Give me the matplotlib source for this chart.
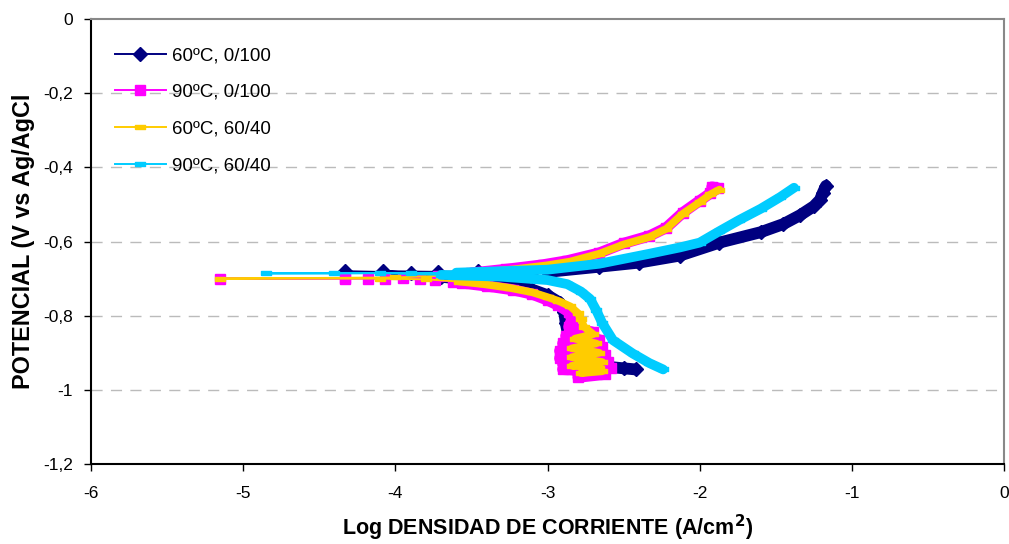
import matplotlib
matplotlib.use("Agg")
import matplotlib.pyplot as plt
import numpy as np

plt.rcParams['font.family'] = ['Liberation Sans', 'DejaVu Sans']

# ---------------- data (log i [A/cm2], E [V vs Ag/AgCl]) ----------------
labels = ["60ºC, 0/100", "90ºC, 0/100", "60ºC, 60/40", "90ºC, 60/40"]

# 60ºC, 0/100
s1_cat_x = [-2.42, -2.50, -2.60, -2.72, -2.82, -2.86, -2.88, -2.89, -2.92, -3.00, -3.10, -3.25, -3.45, -3.70]
s1_cat_y = [-0.945, -0.942, -0.938, -0.925, -0.900, -0.860, -0.820, -0.790, -0.765, -0.745, -0.730, -0.715, -0.705, -0.695]
s1_mid_x = [-4.33, -3.90, -4.08, -3.72, -3.46, -3.26, -3.10]
s1_mid_y = [-0.680, -0.684, -0.680, -0.682, -0.680, -0.681, -0.682]
s1_an_x = [-3.00, -2.66, -2.40, -2.13, -1.87, -1.60, -1.45, -1.34, -1.25, -1.21, -1.19, -1.17]
s1_an_y = [-0.682, -0.668, -0.657, -0.638, -0.603, -0.575, -0.553, -0.529, -0.505, -0.488, -0.468, -0.450]

# 90ºC, 0/100
s2_cat_x = [-2.62, -2.80, -2.68, -2.90, -2.58, -2.90, -2.60, -2.92, -2.62, -2.92, -2.64, -2.90, -2.66, -2.88,
            -2.70, -2.86, -2.84, -2.86, -2.93, -3.00, -3.10, -3.23, -3.40, -3.56]
s2_cat_y = [-0.958, -0.966, -0.950, -0.945, -0.940, -0.930, -0.925, -0.915, -0.905, -0.895, -0.885, -0.875,
            -0.865, -0.855, -0.845, -0.830, -0.810, -0.790, -0.772, -0.758, -0.742, -0.730, -0.720, -0.712]
s2_mid_x = [-3.62, -3.74, -3.84, -4.07, -4.18, -4.33, -5.15, -4.33, -3.95, -3.72]
s2_mid_y = [-0.708, -0.704, -0.702, -0.701, -0.700, -0.700, -0.700, -0.699, -0.698, -0.693]
s2_an_x = [-3.50, -3.27, -3.03, -2.87, -2.66, -2.50, -2.33, -2.22, -2.11, -2.00, -1.93, -1.88, -1.92]
s2_an_y = [-0.685, -0.675, -0.663, -0.652, -0.631, -0.605, -0.585, -0.563, -0.522, -0.490, -0.470, -0.456, -0.453]

# 60ºC, 60/40
s3_cat_x = [-2.64, -2.78, -2.66, -2.84, -2.64, -2.84, -2.66, -2.84, -2.68, -2.82, -2.70, -2.76, -2.78, -2.80,
            -2.85, -2.93, -3.00, -3.10, -3.25, -3.42, -3.58]
s3_cat_y = [-0.950, -0.955, -0.940, -0.935, -0.925, -0.912, -0.900, -0.888, -0.875, -0.862, -0.850, -0.830,
            -0.810, -0.793, -0.775, -0.760, -0.750, -0.737, -0.725, -0.715, -0.708]
s3_mid_x = [-3.80, -4.10, -5.15, -4.00, -3.70]
s3_mid_y = [-0.702, -0.700, -0.700, -0.697, -0.692]
s3_an_x = [-3.45, -3.20, -3.00, -2.85, -2.66, -2.50, -2.33, -2.22, -2.11, -2.00, -1.93, -1.87]
s3_an_y = [-0.684, -0.674, -0.664, -0.654, -0.633, -0.608, -0.588, -0.566, -0.525, -0.494, -0.473, -0.460]

# 90ºC, 60/40
s4_cat_x = [-2.24, -2.33, -2.44, -2.57, -2.64, -2.68, -2.72, -2.78, -2.87, -3.00, -3.30, -3.70]
s4_cat_y = [-0.945, -0.928, -0.902, -0.866, -0.820, -0.785, -0.755, -0.735, -0.715, -0.704, -0.695, -0.690]
s4_mid_x = [-4.10, -4.85, -4.40, -3.90]
s4_mid_y = [-0.685, -0.686, -0.686, -0.685]
s4_an_x = [-3.60, -3.00, -2.66, -2.33, -2.13, -2.00, -1.87, -1.74, -1.60, -1.47, -1.38]
s4_an_y = [-0.684, -0.676, -0.660, -0.633, -0.616, -0.603, -0.572, -0.542, -0.512, -0.480, -0.455]

x_ticks = [-6, -5, -4, -3, -2, -1, 0]
y_ticks = [0, -0.2, -0.4, -0.6, -0.8, -1.0, -1.2]
y_ticklabels = ["0", "-0,2", "-0,4", "-0,6", "-0,8", "-1", "-1,2"]

# ---------------- styling ----------------
colors = ["#000080", "#FF00FF", "#FFCC00", "#00CCFF"]
rect = [(-1, -0.45), (1, -0.45), (1, 0.45), (-1, 0.45), (-1, -0.45)]
markers = ["D", "s", rect, rect]
msizes = [7.5, 7.5, 6.5, 6.5]
band_w = [8.5, 8.0, 5.5, 7.0]

fig = plt.figure(figsize=(10.09, 5.44), dpi=100)
ax = fig.add_axes([91 / 1009, 80 / 544, 913 / 1009, 445 / 544])

series = [
    (s1_cat_x, s1_cat_y, s1_mid_x, s1_mid_y, s1_an_x, s1_an_y),
    (s2_cat_x, s2_cat_y, s2_mid_x, s2_mid_y, s2_an_x, s2_an_y),
    (s3_cat_x, s3_cat_y, s3_mid_x, s3_mid_y, s3_an_x, s3_an_y),
    (s4_cat_x, s4_cat_y, s4_mid_x, s4_mid_y, s4_an_x, s4_an_y),
]

for i, (cx, cy, mx, my, axx, ayy) in enumerate(series):
    z = 3 + i
    c = colors[i]
    ax.plot(cx, cy, color=c, lw=band_w[i], solid_capstyle="round", solid_joinstyle="round", zorder=z)
    ax.plot(axx, ayy, color=c, lw=band_w[i], solid_capstyle="round", solid_joinstyle="round", zorder=z)
    allx = list(cx) + list(mx) + list(axx)
    ally = list(cy) + list(my) + list(ayy)
    ax.plot(allx, ally, color=c, lw=1.4, marker=markers[i], ms=msizes[i],
            mfc=c, mec=c, label=labels[i], zorder=z)

ax.set_xlim(-6, 0)
ax.set_ylim(-1.2, 0)
ax.set_xticks(x_ticks)
ax.set_xticklabels([str(t) for t in x_ticks])
ax.set_yticks(y_ticks)
ax.set_yticklabels(y_ticklabels)
ax.tick_params(axis="both", direction="out", length=5, width=1, labelsize=12.5, color="black")
ax.tick_params(axis="y", pad=8)
ax.tick_params(axis="x", pad=11)

for y in y_ticks[1:-1]:
    ax.axhline(y, color="#BBBBBB", lw=1, ls=(0, (8, 6)), zorder=1)

for side in ["left", "bottom"]:
    ax.spines[side].set_color("black")
    ax.spines[side].set_linewidth(1.5)
for side in ["top", "right"]:
    ax.spines[side].set_color("#888888")
    ax.spines[side].set_linewidth(1.5)

ax.set_xlabel("Log DENSIDAD DE CORRIENTE (A/cm$^\\mathbf{2}$)", fontsize=15.5, fontweight="bold", labelpad=8)
ax.set_ylabel("POTENCIAL (V vs Ag/AgCl", fontsize=16.8, fontweight="bold", labelpad=6)

leg = ax.legend(loc="upper left", bbox_to_anchor=(0.008, 0.975), frameon=False, fontsize=13.5,
                handlelength=2.7, labelspacing=1.05, handletextpad=0.35)

fig.savefig("out.png", dpi=100)
